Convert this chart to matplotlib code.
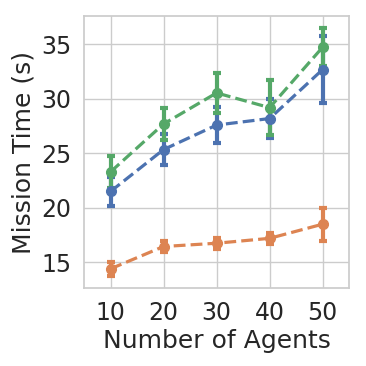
import matplotlib
matplotlib.use("Agg")
import matplotlib.pyplot as plt
import seaborn as sns

# values
agents = [10, 20, 30, 40, 50]

time_blue = [21.5, 25.35, 27.6, 28.2, 32.7]
err_blue = [1.33, 1.4, 1.65, 1.8, 3.1]

time_orange = [14.4, 16.45, 16.75, 17.2, 18.5]
err_orange = [0.65, 0.5, 0.5, 0.5, 1.5]

time_green = [23.3, 27.7, 30.55, 29.2, 34.75]
err_green = [1.45, 1.45, 1.8, 2.55, 1.75]

sns.set_theme(style="whitegrid")
palette = sns.color_palette("deep")

fig = plt.figure(figsize=(3.66, 3.66), dpi=100)
ax = fig.add_axes([0.2295, 0.2123, 0.7245, 0.7447])

series = [
    (time_blue, err_blue, palette[0]),
    (time_orange, err_orange, palette[1]),
    (time_green, err_green, palette[2]),
]
for y, e, c in series:
    ax.errorbar(agents, y, yerr=e, fmt="o--", color=c, lw=2.3, ms=7,
                elinewidth=3, capsize=3, capthick=3)

ax.set_xlim(5, 55)
ax.set_xticks(agents)
ax.set_yticks([15, 20, 25, 30, 35])
ax.tick_params(labelsize=17, pad=3)
ax.set_xlabel("Number of Agents", fontsize=18, labelpad=3)
ax.set_ylabel("Mission Time (s)", fontsize=18, labelpad=4)

fig.savefig("out.png", dpi=100)
